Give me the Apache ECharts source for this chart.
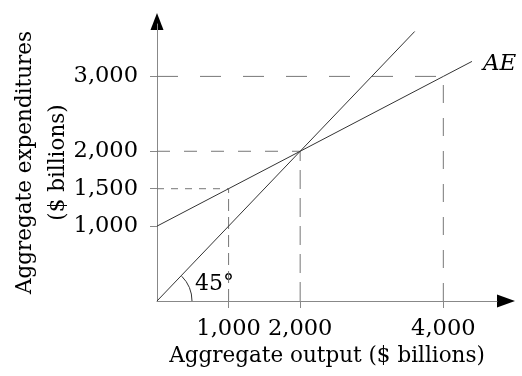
<!DOCTYPE html>
<html>
<head>
<meta charset="utf-8">
<script src="https://cdn.jsdelivr.net/npm/echarts@6/dist/echarts.min.js"></script>
<style>
  html, body { margin: 0; padding: 0; background: #fff; }
  #chart { width: 522px; height: 376px; }
</style>
</head>
<body>
<div id="chart"></div>
<script>
// ---- data ----
var xTicks = [1000, 2000, 4000];
var xTickLabels = ['1,000', '2,000', '4,000'];
var yTicks = [1000, 1500, 2000, 3000];
var yTickLabels = ['1,000', '1,500', '2,000', '3,000'];

var lineX45 = [0, 3600];
var lineY45 = [0, 3600];

var aeX = [0, 1000, 2000, 4000, 4400];
var aeY = [1000, 1500, 2000, 3000, 3200];

var guideX = [1000, 2000, 4000];
var guideY = [1500, 2000, 3000];

var xTitle = 'Aggregate output ($ billions)';
var yTitle = 'Aggregate expenditures\n($ billions)';
var aeName = 'AE';
var angleLabel = '45°';

var X_MAX = 4750;
var Y_MAX = 3700;

// ---- chart ----
var FONT = 'DejaVu Serif';
var chart = echarts.init(document.getElementById('chart'), null, { renderer: 'canvas' });

function zip(xs, ys) { return xs.map(function (x, i) { return [x, ys[i]]; }); }
function fmt(list, labels) {
  return function (v) { var i = list.indexOf(v); return i >= 0 ? labels[i] : ''; };
}

var hDash = [[7, 7], [13, 14], [21, 22]];
var vDash = [[12, 6], [19, 9], [18, 15]];

var series = [];
guideX.forEach(function (gx, i) {
  series.push({
    type: 'line', silent: true, symbol: 'none', animation: false,
    data: [[0, guideY[i]], [gx, guideY[i]]],
    lineStyle: { color: '#777', width: 1, type: hDash[i] }, z: 1
  });
  series.push({
    type: 'line', silent: true, symbol: 'none', animation: false,
    data: [[gx, 0], [gx, guideY[i]]],
    lineStyle: { color: '#777', width: 1, type: vDash[i] }, z: 1
  });
});
series.push({
  type: 'line', silent: true, symbol: 'none', animation: false,
  data: zip(lineX45, lineY45),
  lineStyle: { color: '#333', width: 1 }, z: 3
});
series.push({
  type: 'line', silent: true, symbol: 'none', animation: false,
  data: zip(aeX, aeY),
  lineStyle: { color: '#333', width: 1 }, z: 3,
  endLabel: {
    show: true, formatter: aeName, fontFamily: FONT, fontStyle: 'italic',
    fontSize: 23, color: '#000', distance: 11, offset: [0, 3]
  }
});

chart.setOption({
  animation: false,
  grid: { left: 157, top: 24, right: 25, bottom: 75, containLabel: false, outerBoundsMode: 'none' },
  xAxis: {
    type: 'value', min: 0, max: X_MAX,
    splitLine: { show: false },
    axisLine: { show: true, onZero: false, lineStyle: { color: '#888', width: 1 } },
    axisTick: { show: true, customValues: xTicks, length: 7, inside: false, lineStyle: { color: '#888' } },
    axisLabel: { customValues: xTicks, formatter: fmt(xTicks, xTickLabels),
      fontFamily: FONT, fontSize: 22.5, color: '#000', margin: 17 },
    name: xTitle, nameLocation: 'middle', nameGap: 44, nameMoveOverlap: false,
    nameTextStyle: { fontFamily: FONT, fontSize: 21.5, color: '#000' }
  },
  yAxis: {
    type: 'value', min: 0, max: Y_MAX,
    splitLine: { show: false },
    axisLine: { show: true, onZero: false, lineStyle: { color: '#888', width: 1 } },
    axisTick: { show: true, customValues: yTicks, length: 7, inside: false, lineStyle: { color: '#888' } },
    axisLabel: { customValues: yTicks, formatter: fmt(yTicks, yTickLabels),
      fontFamily: FONT, fontSize: 22.5, color: '#000', margin: 19 },
    name: yTitle, nameLocation: 'middle', nameGap: 82, nameRotate: 90, nameMoveOverlap: false,
    nameTextStyle: { fontFamily: FONT, fontSize: 21.5, color: '#000', lineHeight: 33 }
  },
  series: series
});

var o = chart.convertToPixel('grid', [0, 0]);
var xe = chart.convertToPixel('grid', [X_MAX, 0]);
var ye = chart.convertToPixel('grid', [0, Y_MAX]);
chart.setOption({
  graphic: [
    { type: 'polygon', shape: { points: [[xe[0] + 18, xe[1]], [xe[0], xe[1] - 6.5], [xe[0], xe[1] + 6.5]] },
      style: { fill: '#000' }, silent: true },
    { type: 'polygon', shape: { points: [[ye[0], ye[1] - 11], [ye[0] - 6.5, ye[1] + 6], [ye[0] + 6.5, ye[1] + 6]] },
      style: { fill: '#000' }, silent: true },
    { type: 'arc', shape: { cx: o[0], cy: o[1], r: 35, startAngle: -Math.PI / 4, endAngle: 0 },
      style: { stroke: '#333', lineWidth: 1, fill: null }, silent: true },
    { type: 'text', x: o[0] + 38, y: o[1] - 6,
      style: { text: angleLabel, fontFamily: FONT, fontSize: 22, fill: '#000',
        align: 'left', verticalAlign: 'bottom' }, silent: true }
  ]
});
</script>
</body>
</html>
